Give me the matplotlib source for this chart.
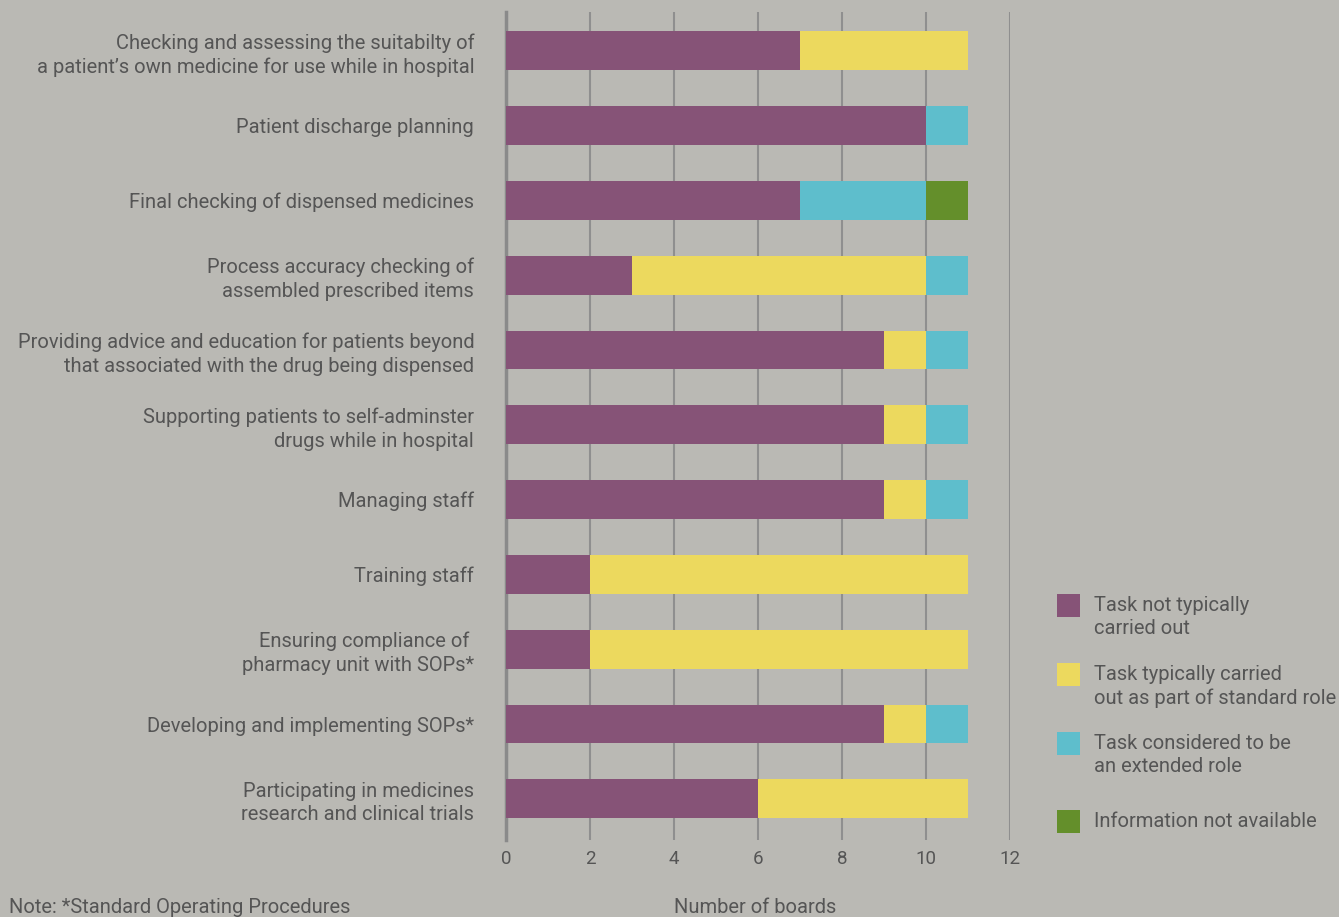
import matplotlib
matplotlib.use("Agg")
import matplotlib.pyplot as plt
from matplotlib.patches import Rectangle
import numpy as np

categories = [
    "Checking and assessing the suitabilty of\na patient\u2019s own medicine for use while in hospital",
    "Patient discharge planning",
    "Final checking of dispensed medicines",
    "Process accuracy checking of\nassembled prescribed items",
    "Providing advice and education for patients beyond\nthat associated with the drug being dispensed",
    "Supporting patients to self-adminster\ndrugs while in hospital",
    "Managing staff",
    "Training staff",
    "Ensuring compliance of \npharmacy unit with SOPs*",
    "Developing and implementing SOPs*",
    "Participating in medicines\nresearch and clinical trials",
]
not_carried_out = [7, 10, 7, 3, 9, 9, 9, 2, 2, 9, 6]
standard_role = [4, 0, 0, 7, 1, 1, 1, 9, 9, 1, 5]
extended_role = [0, 1, 3, 1, 1, 1, 1, 0, 0, 1, 0]
not_available = [0, 0, 1, 0, 0, 0, 0, 0, 0, 0, 0]

series_labels = [
    "Task not typically\ncarried out",
    "Task typically carried\nout as part of standard role",
    "Task considered to be\nan extended role",
    "Information not available",
]
colors = ["#865377", "#ecd95e", "#5ebecc", "#648f2b"]
xticks = [0, 2, 4, 6, 8, 10, 12]

bg = "#bab9b4"
txt = "#555555"
FS = 14.5
plt.rcParams["font.family"] = ["Roboto", "DejaVu Sans"]

fig = plt.figure(figsize=(13.39, 9.17), dpi=100, facecolor=bg)
ax = fig.add_axes([0.378, 0.084, 0.376, 0.903], facecolor=bg)

y = np.arange(len(categories))
left = np.zeros(len(categories))
for vals, col, lab in zip([not_carried_out, standard_role, extended_role, not_available], colors, series_labels):
    vals = np.array(vals, dtype=float)
    ax.barh(y, vals, left=left, height=0.52, color=col, label=lab, zorder=3)
    left += vals

ax.set_xlim(0, 12)
ax.set_ylim(len(categories) - 0.45, -0.52)
ax.set_xticks(xticks)
ax.set_xticklabels([str(t) for t in xticks], fontsize=13.5, color=txt)
ax.set_yticks(y)
ax.set_yticklabels(categories, fontsize=FS, color=txt, linespacing=1.3)
ax.tick_params(axis="both", length=0)
ax.tick_params(axis="y", pad=23)
ax.tick_params(axis="x", pad=7)
ax.grid(axis="x", color="#8f8f8f", linewidth=1.5, zorder=0)
for s in ["top", "right", "bottom"]:
    ax.spines[s].set_visible(False)
ax.spines["left"].set_color("#8a8a8a")
ax.spines["left"].set_linewidth(2.5)

fig.text(0.564, 0.0, "Number of boards", fontsize=FS, color=txt, ha="center", va="bottom")
fig.text(0.007, 0.0, "Note: *Standard Operating Procedures", fontsize=FS, color=txt, ha="left", va="bottom")

# legend
ly = [605, 674, 743, 821]
for yy, col, lab in zip(ly, colors, series_labels):
    fig.patches.append(Rectangle((1057 / 1339, 1 - (yy + 12) / 917), 23 / 1339, 23 / 917,
                                 transform=fig.transFigure, facecolor=col, edgecolor="none"))
    fig.text(1094 / 1339, 1 - (yy - 9) / 917, lab, fontsize=FS, color=txt, ha="left", va="top",
             linespacing=1.3)

fig.savefig("out.png", dpi=100, facecolor=bg)
